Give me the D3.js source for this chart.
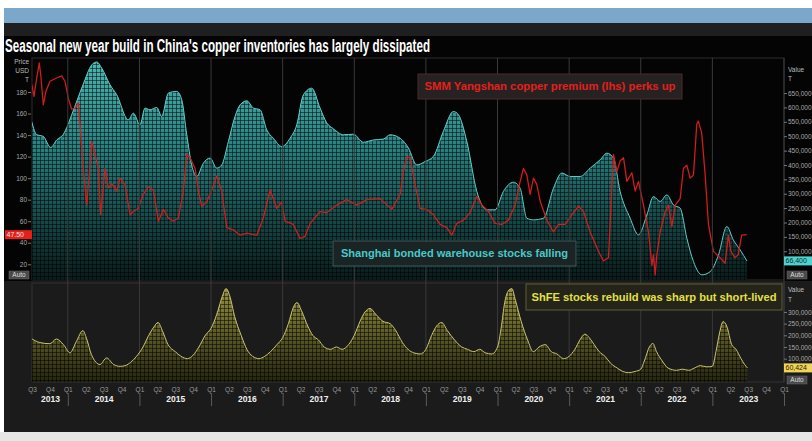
<!DOCTYPE html>
<html>
<head>
<meta charset="utf-8">
<script src="https://cdn.jsdelivr.net/npm/d3@7"></script>
<style>
  html, body { margin: 0; padding: 0; background: #fff; }
  svg { display: block; }
</style>
</head>
<body>
<svg id="chart" width="812" height="441"></svg>
<script>
// --- data (decimal year, value) ---
const premium = [ // SMM Yangshan copper premium, USD/t
  [2013.496,187],[2013.528,176],[2013.566,193],[2013.602,207],[2013.626,193],[2013.658,168],
  [2013.696,181],[2013.751,190],[2013.845,193],[2013.915,195],[2013.961,190],[2014.007,174],
  [2014.054,164],[2014.101,165],[2014.147,170],[2014.170,150],[2014.216,109],[2014.264,75],
  [2014.310,112],[2014.334,134],[2014.380,122],[2014.426,109],[2014.459,66],[2014.520,109],
  [2014.566,91],[2014.613,95],[2014.683,88],[2014.729,100],[2014.799,94],[2014.869,66],
  [2014.915,69],[2014.985,72],[2015.054,85],[2015.124,92],[2015.194,89],[2015.264,60],
  [2015.334,71],[2015.404,63],[2015.473,60],[2015.543,63],[2015.613,88],[2015.661,122],
  [2015.707,119],[2015.777,109],[2015.823,88],[2015.870,74],[2015.940,78],[2016.010,89],
  [2016.080,102],[2016.149,88],[2016.219,54],[2016.311,52],[2016.405,47],[2016.499,49],
  [2016.638,47],[2016.730,63],[2016.824,89],[2016.918,72],[2016.987,78],[2017.034,60],
  [2017.149,57],[2017.243,44],[2017.313,46],[2017.383,58],[2017.522,69],[2017.616,68],
  [2017.756,75],[2017.895,80],[2018.035,75],[2018.175,80],[2018.360,81],[2018.524,71],
  [2018.640,85],[2018.686,106],[2018.733,120],[2018.779,119],[2018.849,94],[2018.919,72],
  [2019.012,71],[2019.105,66],[2019.198,57],[2019.292,54],[2019.362,47],[2019.431,58],
  [2019.524,61],[2019.617,68],[2019.711,83],[2019.781,75],[2019.873,69],[2019.966,58],
  [2020.060,57],[2020.152,61],[2020.246,75],[2020.316,97],[2020.362,109],[2020.409,103],
  [2020.455,85],[2020.502,100],[2020.549,94],[2020.598,78],[2020.688,61],[2020.781,50],
  [2020.851,57],[2020.944,57],[2021.038,66],[2021.131,74],[2021.201,69],[2021.293,50],
  [2021.409,32],[2021.479,23],[2021.549,26],[2021.619,122],[2021.666,106],[2021.712,116],
  [2021.759,119],[2021.806,97],[2021.876,105],[2021.922,88],[2021.968,97],[2022.038,75],
  [2022.108,50],[2022.155,19],[2022.177,29],[2022.201,10],[2022.225,29],[2022.271,50],
  [2022.341,69],[2022.387,75],[2022.434,55],[2022.480,75],[2022.550,81],[2022.596,109],
  [2022.643,112],[2022.690,100],[2022.736,103],[2022.782,150],[2022.804,153],[2022.851,142],
  [2022.899,103],[2022.945,57],[2023.015,32],[2023.108,26],[2023.178,21],[2023.223,47],
  [2023.258,32],[2023.316,26],[2023.360,29],[2023.410,47],[2023.480,47.5]
];

const bonded = [ // Shanghai bonded warehouse stocks, thousand t
  [2013.496,551],[2013.566,505],[2013.654,500],[2013.761,461],[2013.845,487],[2013.933,505],
  [2014.073,587],[2014.212,679],[2014.334,748],[2014.404,758],[2014.473,737],[2014.589,679],
  [2014.683,644],[2014.845,557],[2014.915,580],[2015.008,540],[2015.078,598],[2015.148,592],
  [2015.242,600],[2015.311,569],[2015.404,650],[2015.521,656],[2015.591,627],[2015.661,505],
  [2015.730,400],[2015.800,360],[2015.892,406],[2015.986,424],[2016.080,389],[2016.149,400],
  [2016.242,482],[2016.335,569],[2016.405,609],[2016.499,623],[2016.591,598],[2016.684,592],
  [2016.778,522],[2016.870,493],[2016.987,464],[2017.103,493],[2017.197,540],[2017.289,644],
  [2017.406,667],[2017.522,598],[2017.616,546],[2017.708,526],[2017.848,505],[2017.987,507],
  [2018.127,479],[2018.267,487],[2018.406,490],[2018.500,505],[2018.640,493],[2018.756,459],
  [2018.873,400],[2018.989,412],[2019.105,430],[2019.244,517],[2019.384,586],[2019.454,575],
  [2019.571,482],[2019.711,308],[2019.850,244],[2019.966,244],[2020.082,308],[2020.222,340],
  [2020.316,319],[2020.409,215],[2020.502,209],[2020.642,215],[2020.781,319],[2020.898,372],
  [2021.014,360],[2021.154,360],[2021.293,389],[2021.433,418],[2021.527,441],[2021.619,424],
  [2021.712,308],[2021.852,215],[2021.968,157],[2022.085,226],[2022.177,290],[2022.271,273],
  [2022.364,296],[2022.457,261],[2022.550,250],[2022.644,145],[2022.736,64],[2022.853,18],
  [2022.969,29],[2023.085,87],[2023.202,186],[2023.293,139],[2023.389,104],[2023.482,66.4]
];

const shfe = [ // ShFE copper stocks, thousand t
  [2013.48,188],[2013.61,169],[2013.75,164],[2013.84,184],[2013.94,160],[2014.03,125],
  [2014.12,174],[2014.21,220],[2014.26,188],[2014.33,117],[2014.45,75],[2014.54,103],
  [2014.64,75],[2014.73,67],[2014.80,70],[2014.88,85],[2014.96,110],[2015.05,150],
  [2015.13,200],[2015.20,235],[2015.26,255],[2015.32,220],[2015.40,160],[2015.50,130],
  [2015.58,110],[2015.67,100],[2015.75,115],[2015.83,150],[2015.92,200],[2016.00,230],
  [2016.08,290],[2016.15,360],[2016.21,400],[2016.26,370],[2016.33,280],[2016.42,200],
  [2016.50,140],[2016.58,110],[2016.67,100],[2016.75,110],[2016.83,130],[2016.92,160],
  [2017.00,190],[2017.08,250],[2017.15,320],[2017.20,340],[2017.27,300],[2017.35,240],
  [2017.42,200],[2017.50,180],[2017.58,150],[2017.67,140],[2017.75,150],[2017.83,140],
  [2017.92,160],[2018.00,200],[2018.08,260],[2018.15,300],[2018.22,315],[2018.30,290],
  [2018.40,260],[2018.50,250],[2018.58,220],[2018.67,170],[2018.75,140],[2018.83,125],
  [2018.92,120],[2019.00,140],[2019.08,200],[2019.15,240],[2019.22,255],[2019.30,220],
  [2019.40,180],[2019.50,150],[2019.58,140],[2019.67,130],[2019.75,140],[2019.83,125],
  [2019.92,120],[2020.00,150],[2020.05,230],[2020.10,340],[2020.15,390],[2020.20,400],
  [2020.25,350],[2020.33,260],[2020.42,180],[2020.50,130],[2020.58,150],[2020.67,160],
  [2020.75,130],[2020.83,120],[2020.92,100],[2021.00,110],[2021.08,140],[2021.15,180],
  [2021.22,205],[2021.28,190],[2021.35,160],[2021.42,130],[2021.50,110],[2021.58,80],
  [2021.67,60],[2021.75,45],[2021.83,40],[2021.92,45],[2022.00,55],[2022.05,90],
  [2022.12,150],[2022.17,165],[2022.22,130],[2022.30,90],[2022.38,60],[2022.50,50],
  [2022.58,55],[2022.67,50],[2022.75,60],[2022.83,70],[2022.92,65],[2023.00,67],
  [2023.05,130],[2023.10,210],[2023.15,259],[2023.20,240],[2023.27,160],[2023.33,140],
  [2023.40,100],[2023.45,75],[2023.49,60.4]
];

const priceTicks = [20, 40, 60, 80, 100, 120, 140, 160, 180];
const bondedTicks = [100, 150, 200, 250, 300, 350, 400, 450, 500, 550, 600, 650];
const shfeTicks = [100, 150, 200, 250, 300];
const years = [2013, 2014, 2015, 2016, 2017, 2018, 2019, 2020, 2021, 2022, 2023];
const lastLabels = ['47.50', '66,400', '60,424'];
const title = "Seasonal new year build in China's copper inventories has largely dissipated";
const notes = [
  'SMM Yangshan copper premium (lhs) perks up',
  'Shanghai bonded warehouse stocks falling',
  'ShFE stocks rebuild was sharp but short-lived'
];

// --- layout ---
const svg = d3.select('#chart');
const left = 32, right = 784;
const topPanel = [58, 280], lowPanel = [283, 382];

const x = d3.scaleLinear().domain([2013.5, 2024]).range([left, right]);
const yPrice = d3.scaleLinear().domain([5.4, 211.6]).range([topPanel[1], topPanel[0]]);
const yBonded = d3.scaleLinear().domain([0, 772]).range([topPanel[1], topPanel[0]]);
const yShfe = d3.scaleLinear().domain([0, 424]).range([lowPanel[1], lowPanel[0]]);

// backgrounds
svg.append('rect').attr('width', 812).attr('height', 441).attr('fill', '#fff');
svg.append('rect').attr('x', 4).attr('y', 8).attr('width', 808).attr('height', 15).attr('fill', '#7ba7cb');
svg.append('rect').attr('x', 4).attr('y', 23).attr('width', 808).attr('height', 13).attr('fill', '#1f1f1f');
svg.append('rect').attr('x', 4).attr('y', 36).attr('width', 808).attr('height', 245).attr('fill', '#040404');
svg.append('rect').attr('x', 4).attr('y', 281).attr('width', 808).attr('height', 151).attr('fill', '#1b1b1b');
svg.append('rect').attr('x', 0).attr('y', 432).attr('width', 812).attr('height', 9).attr('fill', '#e6e6e6');

svg.append('text')
  .attr('x', 5).attr('y', 52)
  .attr('textLength', 425).attr('lengthAdjust', 'spacingAndGlyphs')
  .style('font-family', '"Liberation Sans Narrow", "Liberation Sans", sans-serif')
  .style('font-weight', 'bold').style('font-size', '18px')
  .attr('fill', '#fff')
  .text(title);

// defs: gradients, mesh and clips
const defs = svg.append('defs');
const grad = (id, y1, y2, stops) => {
  const g = defs.append('linearGradient').attr('id', id)
    .attr('gradientUnits', 'userSpaceOnUse')
    .attr('x1', 0).attr('x2', 0).attr('y1', y1).attr('y2', y2);
  stops.forEach(([o, c]) => g.append('stop').attr('offset', o).attr('stop-color', c));
};
grad('tealFill', topPanel[0], topPanel[1], [[0, '#4db7b2'], [0.4, '#2a8080'], [0.75, '#164444'], [1, '#0b1b1b']]);
grad('oliveFill', lowPanel[0], lowPanel[1], [[0, '#9a9640'], [0.5, '#5e5c28'], [1, '#262612']]);

const mesh = defs.append('pattern').attr('id', 'mesh')
  .attr('patternUnits', 'userSpaceOnUse').attr('width', 4).attr('height', 4);
mesh.append('path').attr('d', 'M0,0.5H4M0.5,0V4')
  .attr('stroke', '#000').attr('stroke-opacity', 0.5).attr('stroke-width', 1);

defs.append('clipPath').attr('id', 'clipTop').append('rect')
  .attr('x', left).attr('y', topPanel[0]).attr('width', right - left).attr('height', topPanel[1] - topPanel[0]);
defs.append('clipPath').attr('id', 'clipLow').append('rect')
  .attr('x', left).attr('y', lowPanel[0]).attr('width', right - left).attr('height', lowPanel[1] - lowPanel[0]);

// panel borders
svg.append('rect').attr('x', left).attr('y', topPanel[0]).attr('width', right - left)
  .attr('height', topPanel[1] - topPanel[0]).attr('fill', 'none').attr('stroke', '#2c2c2c');
svg.append('rect').attr('x', left).attr('y', lowPanel[0]).attr('width', right - left)
  .attr('height', lowPanel[1] - lowPanel[0]).attr('fill', 'none').attr('stroke', '#333');

// --- top panel ---
const topG = svg.append('g').attr('clip-path', 'url(#clipTop)');
const bondedArea = d3.area().curve(d3.curveMonotoneX)
  .x(d => x(d[0])).y0(topPanel[1]).y1(d => yBonded(d[1]));
topG.append('path').datum(bonded).attr('d', bondedArea).attr('fill', 'url(#tealFill)');
topG.append('path').datum(bonded).attr('d', bondedArea).attr('fill', 'url(#mesh)');
topG.append('path').datum(bonded)
  .attr('d', d3.line().curve(d3.curveMonotoneX).x(d => x(d[0])).y(d => yBonded(d[1])))
  .attr('fill', 'none').attr('stroke', '#62cbc6').attr('stroke-width', 1);

// year grid
svg.append('g').selectAll('line').data(years.slice(1).concat([2024])).enter().append('line')
  .attr('x1', d => x(d)).attr('x2', d => x(d))
  .attr('y1', topPanel[0]).attr('y2', lowPanel[1])
  .attr('stroke', '#3a3a3a').attr('stroke-width', 1);

topG.append('path').datum(premium)
  .attr('d', d3.line().x(d => x(d[0])).y(d => yPrice(d[1])))
  .attr('fill', 'none').attr('stroke', '#d01c1c').attr('stroke-width', 1.3)
  .attr('stroke-linejoin', 'round');

// --- lower panel ---
const lowG = svg.append('g').attr('clip-path', 'url(#clipLow)');
const shfeArea = d3.area().curve(d3.curveMonotoneX)
  .x(d => x(d[0])).y0(lowPanel[1]).y1(d => yShfe(d[1]));
lowG.append('path').datum(shfe).attr('d', shfeArea).attr('fill', 'url(#oliveFill)');
lowG.append('path').datum(shfe).attr('d', shfeArea).attr('fill', 'url(#mesh)');
lowG.append('path').datum(shfe)
  .attr('d', d3.line().curve(d3.curveMonotoneX).x(d => x(d[0])).y(d => yShfe(d[1])))
  .attr('fill', 'none').attr('stroke', '#c9c274').attr('stroke-width', 1);

// --- axes ---
const axisFont = '"Liberation Sans", Arial, sans-serif';
const styleAxis = (g, size, color) => {
  g.select('.domain').remove();
  g.selectAll('line').attr('stroke', '#777');
  g.selectAll('text').attr('fill', color).style('font-family', axisFont).style('font-size', size);
};

svg.append('g').attr('transform', `translate(${left - 1},0)`)
  .call(d3.axisLeft(yPrice).tickValues(priceTicks).tickSize(3).tickPadding(1))
  .call(g => styleAxis(g, '6.5px', '#a8a8a8'));

const fmtT = d => d3.format(',')(d * 1000);
svg.append('g').attr('transform', `translate(${right},0)`)
  .call(d3.axisRight(yBonded).tickValues(bondedTicks).tickSize(3).tickPadding(1).tickFormat(fmtT))
  .call(g => styleAxis(g, '6.5px', '#a8a8a8'));
svg.append('g').attr('transform', `translate(${right},0)`)
  .call(d3.axisRight(yShfe).tickValues(shfeTicks).tickSize(3).tickPadding(1).tickFormat(fmtT))
  .call(g => styleAxis(g, '6.5px', '#a8a8a8'));

// axis headers
const header = (tx, ty, anchor, str) => svg.append('text')
  .attr('x', tx).attr('y', ty).attr('text-anchor', anchor)
  .style('font-family', axisFont).style('font-size', '6.5px').attr('fill', '#bbb').text(str);
header(29, 64, 'end', 'Price');
header(29, 73, 'end', 'USD');
header(29, 82, 'end', 'T');
header(788, 72, 'start', 'Value');
header(788, 81, 'start', 'T');
header(788, 292, 'start', 'Value');
header(788, 302, 'start', 'T');

// quarter / year axis
const quarters = d3.range(0, 43).map(i => 2013.5 + i * 0.25);
svg.append('g').attr('transform', `translate(0,${lowPanel[1]})`)
  .call(d3.axisBottom(x).tickValues(quarters).tickSize(0).tickPadding(5)
    .tickFormat(d => 'Q' + (Math.round((d % 1) * 4) + 1)))
  .call(g => styleAxis(g, '6.5px', '#9a9a9a'));

svg.append('g').attr('transform', `translate(0,393)`)
  .call(d3.axisBottom(x).tickValues(years.slice(1).concat([2024])).tickSize(13).tickFormat(''))
  .call(g => { g.select('.domain').remove(); g.selectAll('line').attr('stroke', '#5a5a5a'); });

svg.append('g').attr('transform', `translate(0,${lowPanel[1]})`)
  .call(d3.axisBottom(x).tickValues(years.map(yr => yr === 2013 ? 2013.75 : yr + 0.5))
    .tickSize(0).tickPadding(14).tickFormat((d, i) => years[i]))
  .call(g => {
    styleAxis(g, '8.5px', '#f0f0f0');
    g.selectAll('text').style('font-weight', 'bold');
  });

// --- last value flags and Auto buttons ---
const flag = (fx, fy, w, fill, color, str) => {
  svg.append('rect').attr('x', fx).attr('y', fy - 4.5).attr('width', w).attr('height', 9).attr('fill', fill);
  svg.append('text').attr('x', fx + 1.5).attr('y', fy + 2.3)
    .style('font-family', axisFont).style('font-size', '7px').attr('fill', color).text(str);
};
flag(5, yPrice(47.5), 27, '#e3201c', '#ffe0e0', lastLabels[0]);
flag(784, yBonded(66.4), 28, '#4fd3d0', '#0b2b2b', lastLabels[1]);
flag(784, yShfe(60.424), 28, '#f0d558', '#2a2200', lastLabels[2]);

const auto = (ax, ay) => {
  svg.append('rect').attr('x', ax).attr('y', ay).attr('width', 20).attr('height', 8)
    .attr('fill', '#4a4a4a').attr('stroke', '#6a6a6a').attr('stroke-width', 0.5);
  svg.append('text').attr('x', ax + 10).attr('y', ay + 6).attr('text-anchor', 'middle')
    .style('font-family', axisFont).style('font-size', '6.5px').attr('fill', '#ddd').text('Auto');
};
auto(9, 271);
auto(787, 271);
auto(787, 376);

// --- annotation boxes ---
const note = (bx, by, bw, bh, fill, stroke, color, str, tl) => {
  svg.append('rect').attr('x', bx).attr('y', by).attr('width', bw).attr('height', bh)
    .attr('fill', fill).attr('stroke', stroke).attr('stroke-width', 1);
  svg.append('text').attr('x', bx + bw / 2).attr('y', by + bh / 2 + 3.8)
    .attr('text-anchor', 'middle')
    .attr('textLength', tl).attr('lengthAdjust', 'spacingAndGlyphs')
    .style('font-family', '"Liberation Sans", Arial, sans-serif')
    .style('font-weight', 'bold').style('font-size', '10.5px')
    .attr('fill', color).text(str);
};
note(418, 74, 264, 25, '#272222', '#4a2a2a', '#e3201c', notes[0], 251);
note(333, 241, 243, 25, '#1a2424', '#3c5a5a', '#48c9c9', notes[1], 227);
note(526, 284, 256, 26, '#24241a', '#5e5e34', '#e2e040', notes[2], 245);
</script>
</body>
</html>
